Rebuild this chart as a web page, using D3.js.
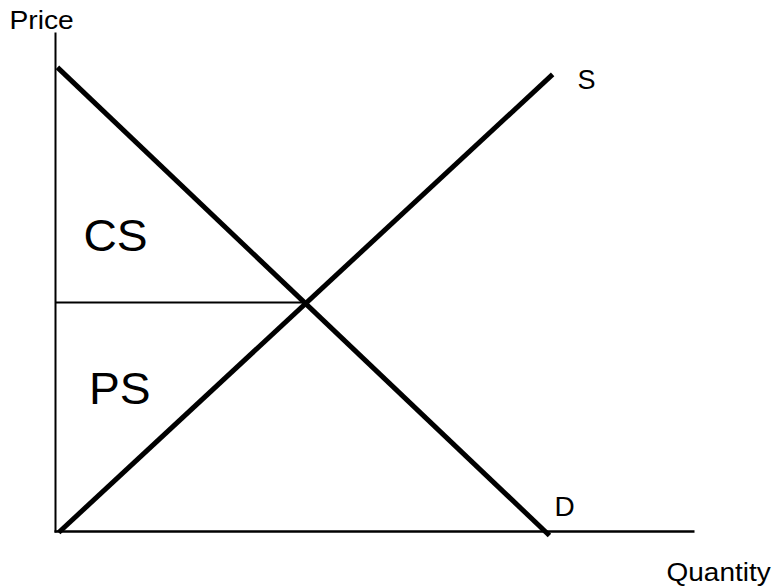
<!DOCTYPE html>
<html>
<head>
<meta charset="utf-8">
<script src="https://cdn.jsdelivr.net/npm/d3@7"></script>
<style>
  body { margin: 0; background: #fff; }
  text { font-family: "Liberation Sans", Arial, sans-serif; fill: #000; }
</style>
</head>
<body>
<script>
// Supply & demand data (quantity, price) in chart units 0..100
var demandPts = [[0.3, 93], [77.3, -0.8]];
var supplyPts = [[0.5, -0.2], [77.8, 91.6]];
var equilibrium = [39, 45.9];
var curveLabels = ["S", "D"];
var areaLabels = ["CS", "PS"];
var axisLabels = ["Price", "Quantity"];

var width = 778, height = 588;

var svg = d3.select("body").append("svg")
    .attr("width", width)
    .attr("height", height);

// scales
var x = d3.scaleLinear().domain([0, 100]).range([55.5, 694.5]);
var y = d3.scaleLinear().domain([0, 100]).range([531.5, 32.5]);

var line = d3.line()
    .x(function(d) { return x(d[0]); })
    .y(function(d) { return y(d[1]); });

// axes (plain lines, no ticks)
svg.append("line")
    .attr("x1", x(0)).attr("y1", y(0) + 1)
    .attr("x2", x(0)).attr("y2", y(100))
    .attr("stroke", "#000").attr("stroke-width", 2);

svg.append("line")
    .attr("x1", x(0) - 1).attr("y1", y(0))
    .attr("x2", x(100)).attr("y2", y(0))
    .attr("stroke", "#000").attr("stroke-width", 2.5);

// price line at equilibrium
svg.append("line")
    .attr("x1", x(0)).attr("y1", y(equilibrium[1]))
    .attr("x2", x(equilibrium[0])).attr("y2", y(equilibrium[1]))
    .attr("stroke", "#000").attr("stroke-width", 2);

// demand & supply curves
svg.append("path")
    .attr("d", line(demandPts))
    .attr("fill", "none").attr("stroke", "#000").attr("stroke-width", 5);

svg.append("path")
    .attr("d", line(supplyPts))
    .attr("fill", "none").attr("stroke", "#000").attr("stroke-width", 5);

// text helper: stretched horizontally like the original
function label(txt, px, py, size, sx) {
    svg.append("text")
        .attr("transform", "translate(" + px + "," + py + ") scale(" + sx + ",1)")
        .style("font-size", size + "px")
        .text(txt);
}

label(axisLabels[0], 9.5, 29, 25, 1.13);
label(axisLabels[1], 666.5, 580.5, 25, 1.12);
label(curveLabels[0], 577.5, 89, 27, 1.0);
label(curveLabels[1], 554.5, 515.5, 28, 1.0);
label(areaLabels[0], 83.5, 251, 44, 1.05);
label(areaLabels[1], 89, 403.5, 44, 1.05);
</script>
</body>
</html>
